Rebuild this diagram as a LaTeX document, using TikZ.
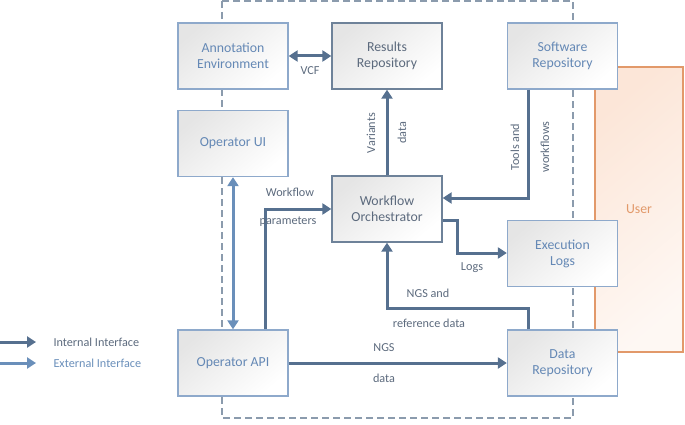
\documentclass[tikz,border=0pt]{standalone}
\usepackage{fontspec}
\setmainfont{Carlito}
\usetikzlibrary{arrows.meta}
\definecolor{intcol}{HTML}{56708F}
\definecolor{extcol}{HTML}{6A8FBA}
\definecolor{lightline}{HTML}{8EA9CB}
\definecolor{darkline}{HTML}{6E8299}
\definecolor{boxtext}{HTML}{6488B5}
\definecolor{darktext}{HTML}{5C6A7D}
\definecolor{usercol}{HTML}{E2996A}
\definecolor{userfill}{HTML}{FCE6D8}
\tikzset{
  box/.style={draw=lightline, line width=1.3pt, top color=black!10, bottom color=white,
    shading angle=40, minimum width=110pt, minimum height=66pt, align=center,
    text=boxtext, font=\fontsize{13.8}{16}\selectfont},
  darkbox/.style={box, draw=darkline, text=darktext},
  lbl/.style={text=darktext, font=\fontsize{12.2}{14}\selectfont},
  intarrow/.style={draw=intcol, line width=3pt, -{Triangle[length=9pt,width=11pt]}},
  extarrow/.style={draw=extcol, line width=3pt, {Triangle[length=9pt,width=11pt]}-{Triangle[length=9pt,width=11pt]}}
}
\begin{document}
\begin{tikzpicture}[x=1pt,y=-1pt]
      \useasboundingbox (0,0) rectangle (685,425);
      % user area and system boundary
      \draw[usercol, line width=1.2pt, top color=userfill, bottom color=userfill!30, shading angle=40]
        (595,67) rectangle (683,352);
      \node[text=usercol, font=\fontsize{13.8}{16}\selectfont] (user) at (639,209) {User};
      \draw[darkline!80, line width=1.3pt, dash pattern=on 7pt off 4pt]
        (222,1) rectangle (573,418);
      % components
      \node[box] (ann) at (233,56) {Annotation\\Environment};
      \node[darkbox] (res) at (387,56) {Results\\Repository};
      \node[box] (soft) at (562.5,56) {Software\\Repository};
      \node[box] (ui) at (233,143.5) {Operator UI};
      \node[darkbox] (wf) at (387,209) {Workflow\\Orchestrator};
      \node[box] (logs) at (562.5,253.5) {Execution\\Logs};
      \node[box] (api) at (233,363) {Operator API};
      \node[box] (data) at (562.5,363) {Data\\Repository};
      % interfaces
      \begin{scope}
        \draw[intarrow, {Triangle[length=9pt,width=11pt]}-{Triangle[length=9pt,width=11pt]}] (ann) -- (res);
        \draw[intarrow] (wf) -- (res);
        \draw[intarrow] (soft.south west) ++(21.5,0) |- (wf.east |- 0,198);
        \draw[intarrow] (wf.east |- 0,220) -- (457,220) |- (logs.west |- 0,253);
        \draw[intarrow] (data.north west) ++(21.5,0) |- (387,308) -- (wf.south);
        \draw[intarrow] (api.north west) ++(88,0) |- (wf.west |- 0,209);
        \draw[intarrow] (api) -- (data);
        \draw[extarrow] (ui) -- (api);
      \end{scope}
      % labels
      \node[lbl] (vcf) at (310,71) {VCF};
      \node[lbl, rotate=90] (variants) at (371,133) {Variants};
      \node[lbl, rotate=90] (vdata) at (402,133) {data};
      \node[lbl, rotate=90] (tools) at (515,147) {Tools and};
      \node[lbl, rotate=90] (wfs) at (545,147) {workflows};
      \node[lbl] (logl) at (472,268) {Logs};
      \node[lbl] (ngsand) at (428,293) {NGS and};
      \node[lbl] (refdata) at (429,323) {reference data};
      \node[lbl] (wfpar) at (290,192) {Workflow};
      \node[lbl] (params) at (288,222) {parameters};
      \node[lbl] (ngs) at (384,348) {NGS};
      \node[lbl] (ngsdata) at (384,378) {data};
      % legend
      \coordinate (int0) at (0,342);
      \coordinate (int1) at (36,342);
      \coordinate (ext0) at (0,363);
      \coordinate (ext1) at (36,363);
      \draw[intarrow] (int0) -- (int1);
      \draw[draw=extcol, line width=3pt, -{Triangle[length=9pt,width=11pt]}] (ext0) -- (ext1);
      \node[lbl, anchor=west] (intl) at (50,342) {Internal Interface};
      \node[lbl, anchor=west, text=extcol] (extl) at (50,363) {External Interface};
    \end{tikzpicture}
\end{document}
